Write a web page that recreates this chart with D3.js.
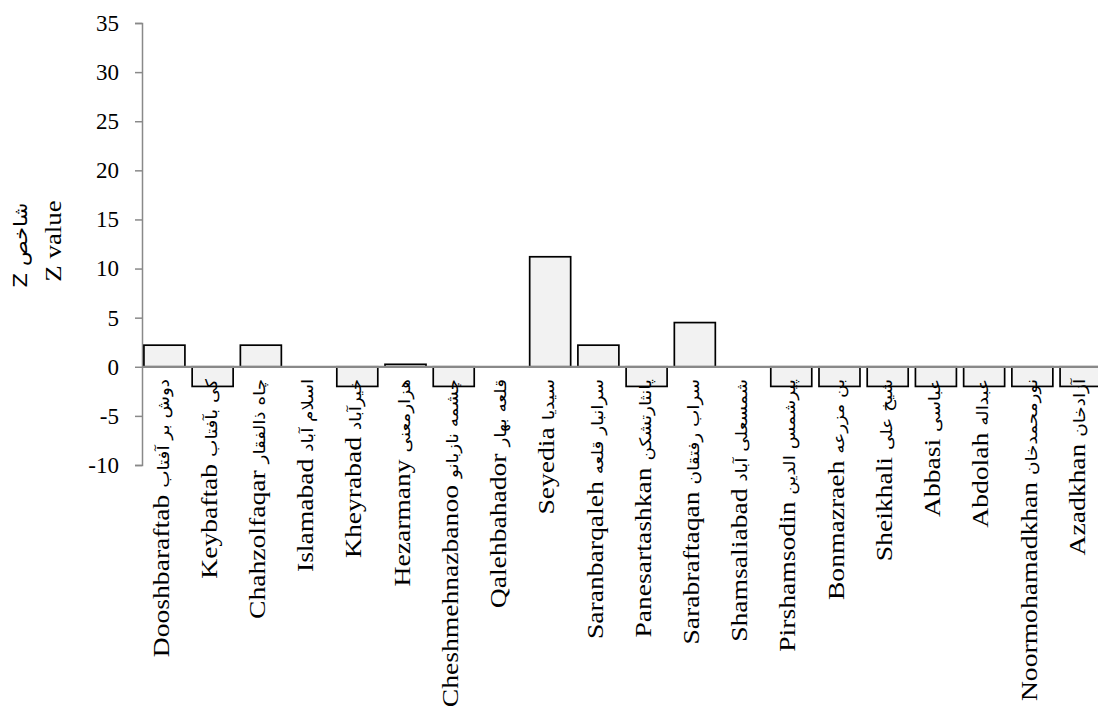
<!DOCTYPE html>
<html>
<head>
<meta charset="utf-8">
<script src="https://cdn.jsdelivr.net/npm/d3@7"></script>
<style>
    body { margin: 0; background: #fff; }
    svg { display: block; }
    .tick text { font-family: "Liberation Serif", "Times New Roman", serif; }
</style>
</head>
<body>
<div id="chart"></div>
<script>
// Z value per village

const villages = ["Dooshbaraftab", "Keybaftab", "Chahzolfaqar", "Islamabad", "Kheyrabad",
    "Hezarmany", "Cheshmehnazbanoo", "Qalehbahador", "Seyedia", "Saranbarqaleh",
    "Panesartashkan", "Sarabraftaqan", "Shamsaliabad", "Pirshamsodin", "Bonmazraeh",
    "Sheikhali", "Abbasi", "Abdolah", "Noormohamadkhan", "Azadkhan"];

const villagesFa = ["دوش بر آفتاب", "کی بآفتاب", "چاه ذالفقار", "اسلام آباد", "خیرآباد",
    "هزارمعنی", "چشمه نازبانو", "قلعه بهار", "سیدیا", "سرانبار قلعه",
    "پانثارتشکن", "سراب رفتقان", "شمسعلی آباد", "پیرشمس الدین", "بن مزرعه",
    "شیخ علی", "عباسی", "عبداله", "نورمحمدخان", "آزادخان"];

const zValues = [2.2, -2, 2.2, 0, -2,
    0.25, -2, 0, 11.2, 2.2,
    -2, 4.5, 0, -2, -2,
    -2, -2, -2, -2, -2];

const yTicks = [-10, -5, 0, 5, 10, 15, 20, 25, 30, 35];

const width = 1098;
const height = 715;
const stretch = 1.15;   // rotated text is drawn taller than wide in the original

const svg = d3.select("#chart")
    .append("svg")
    .attr("width", width)
    .attr("height", height);

const xScale = d3.scaleBand()
    .domain(villages)
    .range([142, 1103])
    .paddingInner(0.15)
    .paddingOuter(0.04);

const yScale = d3.scaleLinear()
    .domain([-10, 35])
    .range([465, 23]);

// y axis
const yAxis = d3.axisLeft(yScale)
    .tickValues(yTicks)
    .tickFormat(d => String(d))
    .tickSize(7)
    .tickPadding(16);

const yAxisG = svg.append("g")
    .attr("class", "y-axis")
    .attr("transform", "translate(142,0)")
    .call(yAxis);

yAxisG.select(".domain").attr("stroke", "#898989").attr("stroke-width", 1.5);
yAxisG.selectAll(".tick line").attr("stroke", "#898989").attr("stroke-width", 1.5);
yAxisG.selectAll(".tick text")
    .attr("fill", "#000")
    .style("font-size", "23px");

// bars
const data = villages.map((v, i) => ({ name: v, fa: villagesFa[i], value: zValues[i] }));

svg.selectAll(".bar")
    .data(data)
    .enter()
    .append("rect")
    .attr("class", "bar")
    .attr("x", d => xScale(d.name))
    .attr("y", d => yScale(Math.max(0, d.value)))
    .attr("width", xScale.bandwidth())
    .attr("height", d => Math.abs(yScale(d.value) - yScale(0)))
    .attr("fill", "#f2f2f2")
    .attr("stroke", "#000")
    .attr("stroke-width", 1.7);

// zero line over the bars
svg.append("line")
    .attr("x1", 142)
    .attr("x2", width)
    .attr("y1", yScale(0))
    .attr("y2", yScale(0))
    .attr("stroke", "#898989")
    .attr("stroke-width", 2.2);

// category labels, English + Persian, rotated
const labels = svg.selectAll(".bar-label")
    .data(data)
    .enter()
    .append("text")
    .attr("class", "bar-label")
    .attr("transform", d => "translate(" + (xScale(d.name) + xScale.bandwidth() / 2) + ",379) rotate(-90) scale(" + stretch + ",1)")
    .attr("dy", "0.26em")
    .style("text-anchor", "end");

labels.append("tspan")
    .style("font-family", "'Liberation Serif', 'Times New Roman', serif")
    .style("font-size", "24px")
    .text(d => d.name + " ");

labels.append("tspan")
    .style("font-family", "'DejaVu Sans', sans-serif")
    .style("font-size", "16px")
    .text(d => d.fa);

// y axis titles
svg.append("text")
    .attr("transform", "translate(53,241) rotate(-90) scale(1.12,1)")
    .attr("dy", "0.32em")
    .style("text-anchor", "middle")
    .style("font-family", "'Liberation Serif', 'Times New Roman', serif")
    .style("font-size", "24px")
    .text("Z value");

svg.append("text")
    .attr("transform", "translate(20,245) rotate(-90) scale(1.12,1)")
    .attr("dy", "0.35em")
    .style("text-anchor", "middle")
    .style("font-family", "'DejaVu Sans', sans-serif")
    .style("font-size", "19px")
    .text("Z شاخص");
</script>
</body>
</html>
